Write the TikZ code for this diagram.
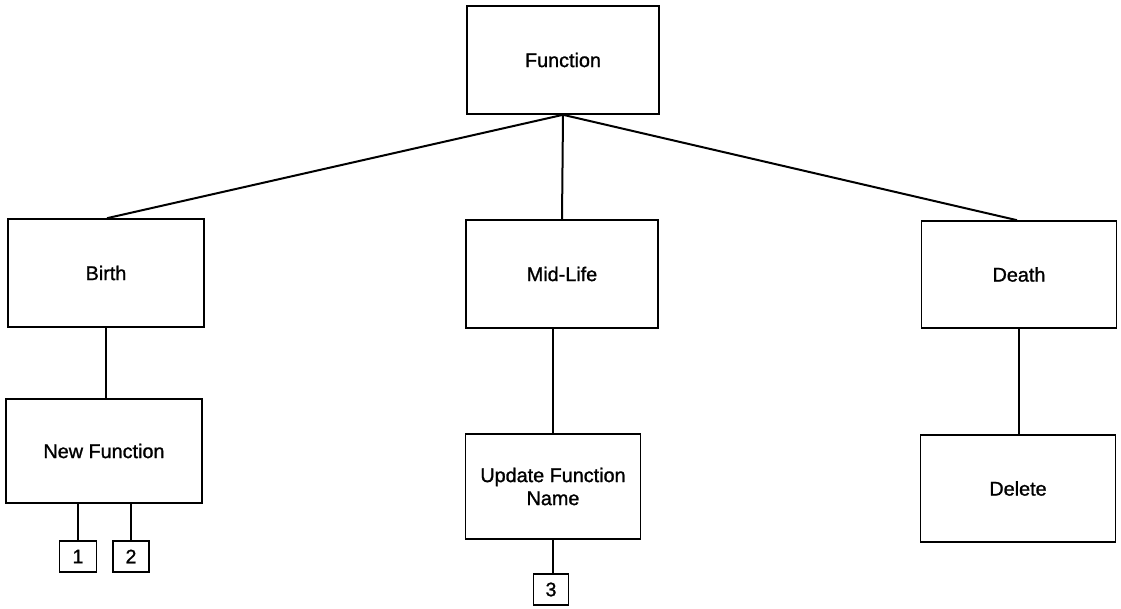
\documentclass[tikz,border=0pt]{standalone}
\usepackage{fontspec}
\setmainfont{Liberation Sans}[RawFeature={embolden=1.2}]
\begin{document}
\begin{tikzpicture}[x=1pt,y=1pt,
  box/.style={draw=black, line width=1.6pt, rectangle, inner sep=0pt, align=center,
    font=\fontsize{19.8}{23}\selectfont},
  numbox/.style={draw=black, line width=1.6pt, rectangle, inner sep=0pt,
    font=\fontsize{19.5}{22}\selectfont},
  conn/.style={draw=black, line width=2pt}]
\useasboundingbox (0,0) rectangle (1121,608);
\node[box, minimum width=192pt, minimum height=108pt] (func) at (563,548) {Function};
\node[box, minimum width=196pt, minimum height=108pt] (birth) at (106,335) {Birth};
\node[box, minimum width=192pt, minimum height=108pt] (mid) at (562,334) {Mid-Life};
\node[box, minimum width=195pt, minimum height=107pt] (death) at (1019,333.5) {Death};
\node[box, minimum width=196pt, minimum height=104pt] (newf) at (104,157) {New Function};
\node[box, minimum width=175pt, minimum height=105pt] (upd) at (553,121.5) {Update Function\\Name};
\node[box, minimum width=195pt, minimum height=107pt] (del) at (1018,119.5) {Delete};
\node[numbox, minimum width=37pt, minimum height=31pt] (b1) at (78,51.5) {1};
\node[numbox, minimum width=36pt, minimum height=31pt] (b2) at (131,51.5) {2};
\node[numbox, minimum width=35pt, minimum height=31pt] (b3) at (551,18.5) {3};
\draw[conn] (func.south) -- ([xshift=1pt]birth.north);
\draw[conn] (func.south) -- (mid.north);
\draw[conn] (func.south) -- ([xshift=-2pt]death.north);
\draw[conn] (birth.south) -- (birth.south |- newf.north);
\draw[conn] (b1.north |- newf.south) -- (b1.north);
\draw[conn] (b2.north |- newf.south) -- (b2.north);
\draw[conn] ([xshift=-9pt]mid.south) coordinate (ms) -- (ms |- upd.north);
\draw[conn] (upd.south) -- (upd.south |- b3.north);
\draw[conn] (death.south) -- (death.south |- del.north);
\end{tikzpicture}
\end{document}
